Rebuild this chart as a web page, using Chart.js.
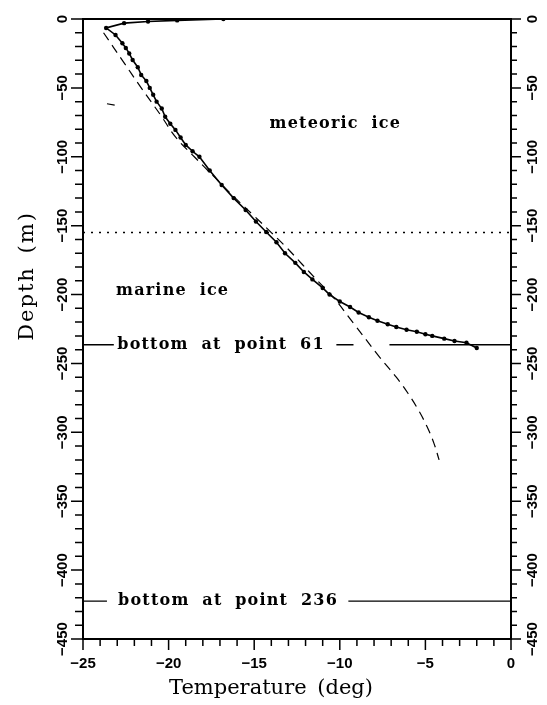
<!DOCTYPE html>
<html>
<head>
<meta charset="utf-8">
<script src="https://cdn.jsdelivr.net/npm/chart.js@4.4.1/dist/chart.umd.min.js"></script>
<style>
    html, body { margin: 0; padding: 0; background: #fff; }
    #wrap { width: 547px; height: 705px; position: relative; }
</style>
</head>
<body>
<div id="wrap"><canvas id="chart"></canvas></div>
<script>
// Measured profile (temperature in deg, depth in m)
const measuredT = [-16.8, -19.5, -21.2, -22.6, -23.65, -23.1, -22.7, -22.5, -22.3, -22.1, -21.8, -21.6,
    -21.3, -21.1, -20.9, -20.7, -20.4, -20.2, -19.9, -19.6, -19.3, -19.0, -18.6, -18.2, -17.6, -16.9,
    -16.2, -15.5, -14.9, -14.3, -13.7, -13.2, -12.6, -12.1, -11.6, -11.0, -10.6, -10.0, -9.4, -8.9,
    -8.3, -7.8, -7.2, -6.7, -6.1, -5.5, -5.0, -4.6, -3.9, -3.3, -2.6, -2.0];
const measuredD = [0, -1, -1.8, -3, -6.5, -11.6, -17.6, -21, -25, -29.8, -35, -40.6,
    -45, -50, -55, -60, -65, -71, -76, -80.5, -86, -91.4, -96, -100, -110, -120.5,
    -130, -138.6, -147, -154.6, -162, -170, -177, -183.6, -189, -195.2, -200, -205, -209, -213,
    -216.5, -219, -221.5, -223.5, -225.5, -227, -228.8, -230, -232, -233.7, -235, -238.8];

// Model profile (dashed)
const modelT = [-23.8, -22.7, -21.6, -20.45, -19.6, -18.5, -17.3, -16.1, -15.0, -14.0, -13.1,
    -12.2, -11.3, -10.4, -9.25, -7.7, -6.7, -6.0, -5.4, -4.9, -4.5, -4.2];
const modelD = [-10, -30, -50, -70, -85.6, -100, -115, -130, -143, -155, -166,
    -178, -190, -201.7, -220, -245, -260, -272, -284, -296, -308, -320];

// small stray stroke near the top left
const strayT = [-23.6, -23.15];
const strayD = [-61.5, -62.5];

const interfaceDepth = -155;
const bottom61Depth = -236.5;
const bottom61Spans = [[-25, -23.2], [-10.2, -9.2], [-7.1, 0]];
const bottom236Depth = -422.5;
const bottom236Spans = [[-25, -23.6], [-9.5, 0]];

const tempTicks = [-25, -20, -15, -10, -5, 0];
const depthTicks = [0, -50, -100, -150, -200, -250, -300, -350, -400, -450];

const noteText = ['meteoric ice', 'marine ice', 'bottom at point 61', 'bottom at point 236'];
const noteT = [-14.1, -23.07, -23.0, -22.95];
const noteD = [-76, -197, -236.5, -422.5];

const xTitle = 'Temperature (deg)';
const yTitle = 'Depth (m)';

function pts(xs, ys) {
    return xs.map((x, i) => ({ x: x, y: ys[i] }));
}

function spans(list, depth) {
    const out = [];
    list.forEach((s, i) => {
        if (i > 0) out.push({ x: s[0], y: null });
        out.push({ x: s[0], y: depth }, { x: s[1], y: depth });
    });
    return out;
}

function minusLabel(v) {
    return v < 0 ? '\u2212' + Math.abs(v) : String(v);
}

const tickFont = 'bold 15px "Liberation Sans", Arial, sans-serif';
const noteFont = 'bold 16px "DejaVu Serif", serif';
const titleFont = '21px "DejaVu Serif", serif';

// Ticks, y labels, top frame, notes and axis titles
const decorPlugin = {
    id: 'decor',
    afterDraw(chart) {
        const ctx = chart.ctx;
        const x = chart.scales.x;
        const y = chart.scales.y;
        const area = chart.chartArea;
        ctx.save();
        ctx.strokeStyle = '#000';
        ctx.fillStyle = '#000';

        // top frame
        ctx.lineWidth = 2;
        ctx.beginPath();
        ctx.moveTo(area.left, area.top);
        ctx.lineTo(area.right, area.top);
        ctx.stroke();

        // tick marks
        ctx.lineWidth = 1.5;
        ctx.beginPath();
        for (let t = -25; t <= 0; t++) {
            const px = x.getPixelForValue(t);
            const len = t % 5 === 0 ? 11 : 7;
            ctx.moveTo(px, area.bottom);
            ctx.lineTo(px, area.bottom + len);
        }
        for (let d = 0; d >= -450; d -= 10) {
            const py = y.getPixelForValue(d);
            const len = d % 50 === 0 ? 12 : 8;
            ctx.moveTo(area.left - len, py);
            ctx.lineTo(area.left, py);
            ctx.moveTo(area.right, py);
            ctx.lineTo(area.right + len - 2, py);
        }
        ctx.stroke();

        // rotated depth labels on both sides
        ctx.font = tickFont;
        ctx.textAlign = 'center';
        ctx.textBaseline = 'middle';
        depthTicks.forEach(d => {
            const py = y.getPixelForValue(d);
            [63, 533].forEach(px => {
                ctx.save();
                ctx.translate(px, py);
                ctx.rotate(-Math.PI / 2);
                ctx.fillText(minusLabel(d), 0, 0);
                ctx.restore();
            });
        });

        // notes
        ctx.font = noteFont;
        ctx.textAlign = 'left';
        ctx.letterSpacing = '1.2px';
        ctx.wordSpacing = '6px';
        noteText.forEach((txt, i) => {
            ctx.fillText(txt, x.getPixelForValue(noteT[i]), y.getPixelForValue(noteD[i]));
        });

        // axis titles
        ctx.font = titleFont;
        ctx.textAlign = 'center';
        ctx.letterSpacing = '0px';
        ctx.wordSpacing = '4px';
        ctx.fillText(xTitle, 271, 689);
        ctx.save();
        ctx.translate(28, 276);
        ctx.rotate(-Math.PI / 2);
        ctx.letterSpacing = '2px';
        ctx.fillText(yTitle, 0, 0);
        ctx.restore();

        ctx.restore();
    }
};

new Chart(document.getElementById('chart'), {
    type: 'scatter',
    data: {
        datasets: [
            {
                label: 'measured',
                data: pts(measuredT, measuredD),
                showLine: true,
                borderColor: '#000',
                backgroundColor: '#000',
                borderWidth: 1.6,
                pointRadius: 2.2,
                pointBorderWidth: 0
            },
            {
                label: 'model',
                data: pts(modelT, modelD),
                showLine: true,
                tension: 0.4,
                borderColor: '#000',
                borderWidth: 1.2,
                borderDash: [9, 6],
                pointRadius: 0
            },
            {
                label: 'stray',
                data: pts(strayT, strayD),
                showLine: true,
                borderColor: '#000',
                borderWidth: 1.2,
                pointRadius: 0
            },
            {
                label: 'interface',
                data: [{ x: -25, y: interfaceDepth }, { x: 0, y: interfaceDepth }],
                showLine: true,
                borderColor: '#000',
                borderWidth: 1.5,
                borderDash: [2, 6],
                pointRadius: 0
            },
            {
                label: 'bottom 61',
                data: spans(bottom61Spans, bottom61Depth),
                showLine: true,
                spanGaps: false,
                borderColor: '#000',
                borderWidth: 1.5,
                pointRadius: 0
            },
            {
                label: 'bottom 236',
                data: spans(bottom236Spans, bottom236Depth),
                showLine: true,
                spanGaps: false,
                borderColor: '#000',
                borderWidth: 1.2,
                pointRadius: 0
            }
        ]
    },
    options: {
        responsive: true,
        maintainAspectRatio: false,
        animation: false,
        layout: { padding: { top: 19, left: 0, right: 0, bottom: 0 } },
        plugins: {
            legend: { display: false },
            tooltip: { enabled: false }
        },
        scales: {
            x: {
                type: 'linear',
                min: -25,
                max: 0,
                grid: { display: false, drawTicks: false },
                border: { display: true, color: '#000', width: 2 },
                ticks: {
                    stepSize: 5,
                    padding: 16,
                    color: '#000',
                    font: { family: '"Liberation Sans", Arial, sans-serif', size: 15, weight: 'bold' },
                    callback: v => tempTicks.includes(v) ? minusLabel(v) : ''
                },
                afterFit: s => { s.height = 66; }
            },
            y: {
                type: 'linear',
                position: 'left',
                min: -450,
                max: 0,
                grid: { display: false, drawTicks: false },
                border: { display: true, color: '#000', width: 2 },
                ticks: { display: false },
                afterFit: s => { s.width = 83; }
            },
            y2: {
                type: 'linear',
                position: 'right',
                min: -450,
                max: 0,
                grid: { display: false, drawTicks: false },
                border: { display: true, color: '#000', width: 2 },
                ticks: { display: false },
                afterFit: s => { s.width = 36; }
            }
        }
    },
    plugins: [decorPlugin]
});
</script>
</body>
</html>
